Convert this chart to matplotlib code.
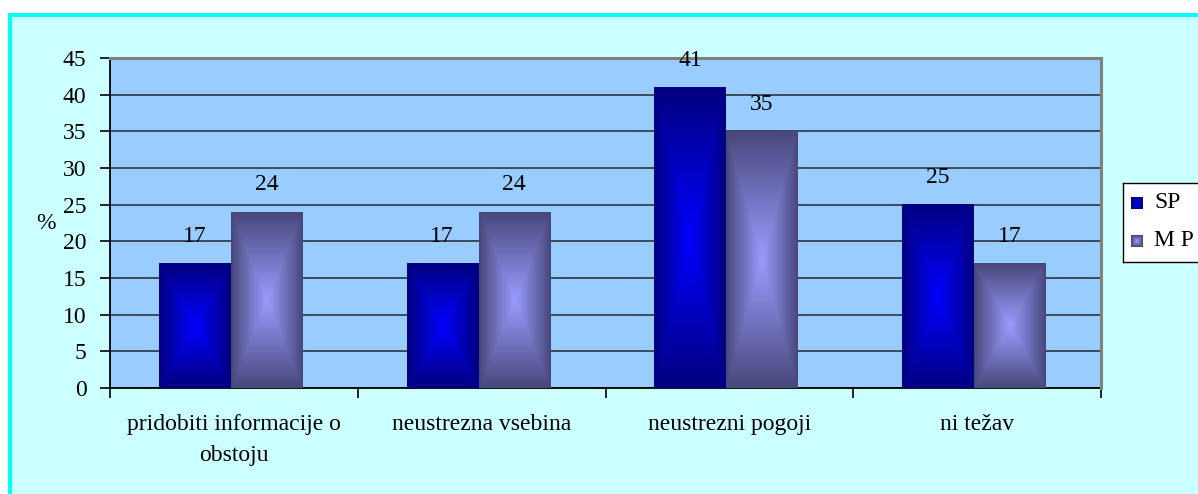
import numpy as np
import matplotlib
matplotlib.use("Agg")
import matplotlib.pyplot as plt
from matplotlib.patches import Rectangle

categories = ["pridobiti informacije o\nobstoju", "neustrezna vsebina",
              "neustrezni pogoji", "ni težav"]
series_names = ["SP", "M P"]
sp_values = [17, 17, 41, 25]
mp_values = [24, 24, 35, 17]
y_ticks = [0, 5, 10, 15, 20, 25, 30, 35, 40, 45]

W, H = 1198, 494
DPI = 100
FONT = "Liberation Serif"
FS = 17

BG = "#CCFFFF"
PLOT_BG = "#99CCFF"
SP_EDGE, SP_CENTER = np.array([0, 0, 128]) / 255, np.array([0, 0, 255]) / 255
MP_EDGE, MP_CENTER = np.array([72, 72, 124]) / 255, np.array([155, 155, 255]) / 255


def box_gradient(edge, center, nx=80, ny=160):
    """Rectangular gradient that brightens from the border to the centre."""
    u = np.linspace(-1, 1, nx)
    v = np.linspace(-1, 1, ny)
    uu, vv = np.meshgrid(u, v)
    t = np.maximum(np.abs(uu), np.abs(vv))
    t = np.clip(t, 0, 1)[..., None]
    return center * (1 - t) + edge * t


fig = plt.figure(figsize=(W / DPI, H / DPI), dpi=DPI, facecolor="white")

px = lambda x: x / W
py = lambda y: 1 - y / H

# chart area with its cyan frame
fig.patches.append(Rectangle((px(10), py(520)), px(1230) - px(10), py(15) - py(520),
                             transform=fig.transFigure, facecolor=BG,
                             edgecolor="#00FFFF", linewidth=2.9, zorder=-10))

ax = fig.add_axes([px(110), py(388), px(1101) - px(110), py(58) - py(388)])
ax.set_facecolor(PLOT_BG)

x = np.arange(len(categories))
bw = 0.287
off = 0.145
shift = -0.014  # bars sit slightly left of the category centre

for i, (s, m) in enumerate(zip(sp_values, mp_values)):
    for val, cx, edge, center in ((s, x[i] + shift - off, SP_EDGE, SP_CENTER),
                                  (m, x[i] + shift + off, MP_EDGE, MP_CENTER)):
        img = box_gradient(edge, center)
        ax.imshow(img, extent=[cx - bw / 2, cx + bw / 2, 0, val], aspect="auto",
                  origin="lower", interpolation="bilinear", zorder=3)
        ax.annotate(f"{val}", (cx, val), xytext=(0, 12), textcoords="offset points",
                    ha="center", va="bottom", fontsize=FS, family=FONT, zorder=4)

ax.set_xlim(-0.5, len(categories) - 0.5)
ax.set_ylim(0, 45)
ax.set_yticks(y_ticks)
ax.set_yticklabels([str(t) for t in y_ticks], fontsize=FS, family=FONT)
ax.yaxis.grid(True, color="#3C4A5C", linewidth=1.4, zorder=1)
ax.set_axisbelow(True)

# category boundary ticks on the x axis
ax.set_xticks(np.arange(-0.5, len(categories) + 0.5, 1.0))
ax.set_xticklabels([])
ax.set_xticks(x, minor=True)
ax.set_xticklabels(categories, minor=True, fontsize=FS, family=FONT,
                   linespacing=1.6)
ax.tick_params(axis="x", which="minor", length=0, pad=19)
ax.tick_params(axis="x", which="major", length=7, width=1.2, color="black",
               direction="out")
ax.tick_params(axis="y", length=7, width=1.2, color="black", pad=10)

for side in ("left", "bottom"):
    ax.spines[side].set_color("black")
    ax.spines[side].set_linewidth(1.3)
for side in ("top", "right"):
    ax.spines[side].set_color("#808080")
    ax.spines[side].set_linewidth(2.2)
ax.spines["right"].set_zorder(5)

ax.set_ylabel("%", fontsize=FS, family=FONT, rotation=0, labelpad=12, va="center")

# legend box
lax = fig.add_axes([px(1123), py(262), px(1215) - px(1123), py(183) - py(262)])
lax.set_facecolor("white")
lax.set_xticks([])
lax.set_yticks([])
for sp in lax.spines.values():
    sp.set_color("black")
    sp.set_linewidth(1.0)
for name, yc, edge, center in ((series_names[0], 0.75, SP_EDGE, SP_CENTER),
                               (series_names[1], 0.27, MP_EDGE, MP_CENTER)):
    img = box_gradient(edge, center, 12, 12)
    hx, hy = 12 / 92, 12 / 79
    x0 = 8 / 92
    lax.imshow(img, extent=[x0, x0 + hx, yc - hy / 2, yc + hy / 2], aspect="auto",
               origin="lower", interpolation="bilinear")
    lax.text(31 / 92, yc, name, fontsize=FS, family=FONT, va="center", ha="left")
lax.set_xlim(0, 1)
lax.set_ylim(0, 1)

fig.savefig("out.png", dpi=DPI, facecolor=fig.get_facecolor())
